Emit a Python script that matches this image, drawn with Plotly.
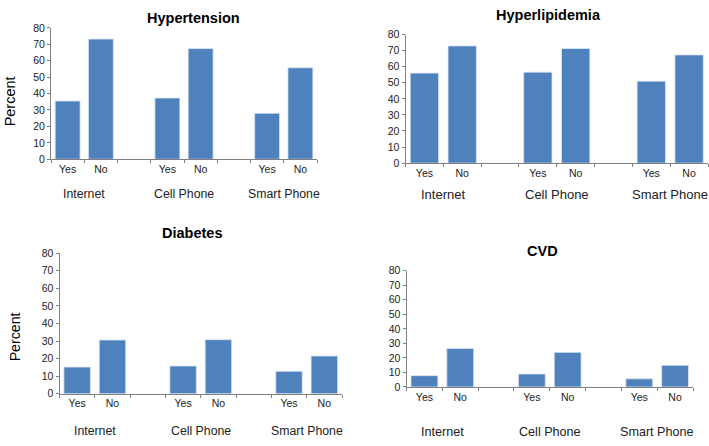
import plotly.graph_objects as go

# ---- data ----
groups = ["Internet", "Cell Phone", "Smart Phone"]
answers = ["Yes", "No"]
titles = ["Hypertension", "Hyperlipidemia", "Diabetes", "CVD"]
hypertension = [35.5, 73.2, 37.3, 67.4, 28.0, 55.7]
hyperlipidemia = [56.0, 72.9, 56.6, 71.3, 51.0, 67.3]
diabetes = [15.2, 30.6, 15.8, 30.8, 12.8, 21.5]
cvd = [7.8, 26.5, 8.9, 23.8, 5.6, 14.9]
y_ticks = [0, 10, 20, 30, 40, 50, 60, 70, 80]

series = [hypertension, hyperlipidemia, diabetes, cvd]

# categories with an empty slot between groups
cats, labels, idx = [], [], []
k = 0
for gi, g in enumerate(groups):
    for a in answers:
        cats.append(f"{g} {a}")
        labels.append(a)
        idx.append(k)
        k += 1
    if gi < len(groups) - 1:
        cats.append(f"gap{gi}")
        labels.append("")
        idx.append(None)

W, H = 709, 446
FONT = "Liberation Sans, Arial, sans-serif"
BLUE = "#4F81BD"
AXC = "#808080"

# panel geometry in pixels: x0, x1, ytop, ybottom
panels = [
    (51, 317, 22.5, 157.5),
    (405.5, 708, 29.3, 161.5),
    (59.5, 342, 254, 398.5),
    (406.5, 693, 272, 391.5),
]
title_pos = [(193, 12), (548, 9.5), (192, 233), (542, 252)]
group_y = [193, 194, 437, 437.5]
group_fs = [12.3, 13, 12.3, 12.6]

fig = go.Figure()
layout = dict(
    width=W, height=H, margin=dict(l=0, r=0, t=0, b=0),
    paper_bgcolor="white", plot_bgcolor="white",
    showlegend=False, font=dict(family=FONT, color="#222222"),
    bargap=0.25,
)
annotations = []

for p, vals in enumerate(series):
    n = p + 1
    xa = "x" if n == 1 else f"x{n}"
    ya = "y" if n == 1 else f"y{n}"
    yvals = [vals[i] if i is not None else None for i in idx]
    fig.add_trace(go.Bar(
        x=cats, y=yvals, xaxis=xa, yaxis=ya,
        marker=dict(color=BLUE, line=dict(color="#dce6f2", width=0.8)),
    ))
    x0, x1, yt, yb = panels[p]
    layout["xaxis" if n == 1 else f"xaxis{n}"] = dict(
        domain=[x0 / W, x1 / W], anchor=ya, type="category",
        categoryorder="array", categoryarray=cats,
        tickmode="array", tickvals=cats, ticktext=labels,
        tickson="boundaries", ticks="outside", ticklen=3, tickcolor=AXC,
        showline=True, linecolor=AXC, linewidth=1, showgrid=False,
        tickfont=dict(size=10.5, family=FONT, color="#222222"),
        range=[-0.5, len(cats) - 0.5], fixedrange=True,
    )
    layout["yaxis" if n == 1 else f"yaxis{n}"] = dict(
        domain=[1 - yb / H, 1 - yt / H], anchor=xa,
        range=[0, 80], tickvals=y_ticks, ticks="outside", ticklen=3,
        tickcolor=AXC, showline=True, linecolor=AXC, linewidth=1,
        showgrid=False, zeroline=False,
        tickfont=dict(size=10.5, family=FONT, color="#222222"),
        fixedrange=True,
    )
    tx, ty = title_pos[p]
    annotations.append(dict(
        text=f"<b>{titles[p]}</b>", x=tx / W, y=1 - ty / H, xref="paper", yref="paper",
        xanchor="center", yanchor="middle", showarrow=False,
        font=dict(size=14.5, family=FONT, color="#000000"),
    ))
    nslots = len(cats)
    for gi, g in enumerate(groups):
        center = (gi * 3 + 1) / nslots
        annotations.append(dict(
            text=g, x=center, y=1 - group_y[p] / H,
            xref=f"{xa} domain", yref="paper",
            xanchor="center", yanchor="middle", showarrow=False,
            font=dict(size=group_fs[p], family=FONT, color="#222222"),
        ))

for (px, py, fs) in [(10, 98, 14.5), (15, 339.5, 14.2)]:
    annotations.append(dict(
        text="Percent", x=px / W, y=1 - py / H, xref="paper", yref="paper",
        xanchor="center", yanchor="middle", showarrow=False, textangle=-90,
        font=dict(size=fs, family=FONT, color="#000000"),
    ))

layout["annotations"] = annotations
fig.update_layout(**layout)
fig.write_html(
    "out.html",
    config={"displayModeBar": False},
    post_script="document.body.style.margin='0';document.body.style.overflow='hidden';",
)
